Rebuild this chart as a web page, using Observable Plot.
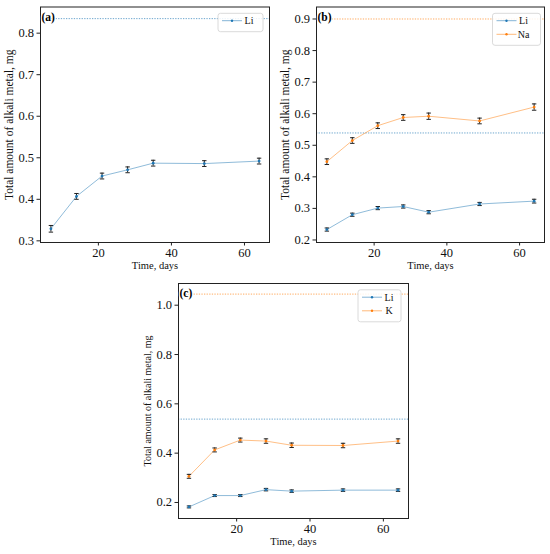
<!DOCTYPE html>
<html><head><meta charset="utf-8">
<script src="https://cdn.jsdelivr.net/npm/d3@7"></script>
<script src="https://cdn.jsdelivr.net/npm/@observablehq/plot@0.6"></script>
<style>
body{margin:0;background:#fff;}
#root{position:relative;width:550px;height:554px;overflow:hidden;background:#fff;}
.panel{position:absolute;}
.panel svg text{font-family:'Liberation Serif','Times New Roman','DejaVu Serif',serif;}
.panel svg g[aria-label$="tick label"] text{font-size:12.5px;}
</style></head><body><div id="root"></div>
<script>
// ---- data ----
const days = [7, 14, 21, 28, 35, 49, 64];

const aLi    = [0.329, 0.407, 0.456, 0.471, 0.487, 0.486, 0.492];
const aLiErr = [0.008, 0.007, 0.007, 0.007, 0.007, 0.007, 0.007];
const aLiRef = 0.835;

const bLi    = [0.233, 0.280, 0.301, 0.306, 0.288, 0.314, 0.323];
const bLiErr = [0.005, 0.005, 0.005, 0.005, 0.005, 0.005, 0.006];
const bNa    = [0.448, 0.515, 0.562, 0.588, 0.592, 0.577, 0.621];
const bNaErr = [0.009, 0.009, 0.009, 0.009, 0.010, 0.009, 0.010];
const bLiRef = 0.539;
const bNaRef = 0.900;

const cLi    = [0.182, 0.228, 0.228, 0.252, 0.246, 0.250, 0.250];
const cLiErr = [0.004, 0.004, 0.004, 0.005, 0.005, 0.005, 0.005];
const cK     = [0.306, 0.413, 0.453, 0.449, 0.432, 0.431, 0.449];
const cKErr  = [0.008, 0.008, 0.008, 0.009, 0.009, 0.009, 0.009];
const cLiRef = 0.538;
const cKRef  = 1.045;

const xTicks  = [20, 40, 60];
const aYTicks = [0.3, 0.4, 0.5, 0.6, 0.7, 0.8];
const bYTicks = [0.2, 0.3, 0.4, 0.5, 0.6, 0.7, 0.8, 0.9];
const cYTicks = [0.2, 0.4, 0.6, 0.8, 1.0];

const xLabel = "Time, days";
const yLabel = "Total amount of alkali metal, mg";

// ---- style ----
const BLUE = "#1f77b4", ORANGE = "#ff7f0e";
const FONT = "'Liberation Serif','Times New Roman','DejaVu Serif',serif";

function rows(vals, errs) {
  return days.map((d, i) => ({x: d, y: vals[i], lo: vals[i] - errs[i], hi: vals[i] + errs[i]}));
}

const cap = {draw(ctx, size) { const w = Math.sqrt(size / Math.PI); ctx.moveTo(-w, 0); ctx.lineTo(w, 0); }};

function panel(cfg) {
  const {left, top, width, height, m, yDomain, yTicks, series, refs, letter, ylabelSize, legendW, legendRight} = cfg;
  const marks = [
    ...refs.map(r => Plot.ruleY([r.value], {stroke: r.color, strokeOpacity: 0.65, strokeDasharray: "1.3,1.3", strokeWidth: 1})),
    ...series.flatMap(s => [
      Plot.line(s.data, {x: "x", y: "y", stroke: s.color, strokeOpacity: 0.5, strokeWidth: 1}),
      Plot.ruleX(s.data, {x: "x", y1: "lo", y2: "hi", stroke: "#222", strokeWidth: 1}),
      Plot.dot(s.data, {x: "x", y: "lo", symbol: cap, r: 2.2, stroke: "#222", fill: "none", strokeWidth: 1}),
      Plot.dot(s.data, {x: "x", y: "hi", symbol: cap, r: 2.2, stroke: "#222", fill: "none", strokeWidth: 1}),
      Plot.dot(s.data, {x: "x", y: "y", r: 1.4, fill: s.color, stroke: "none"})
    ]),
    Plot.frame({stroke: "#222", strokeWidth: 1}),
    Plot.axisX({ticks: xTicks, tickSize: 3.5, tickPadding: 2.5, fontSize: 12.5, fontFamily: FONT, label: null, stroke: "#222", fill: "#111"}),
    Plot.axisY({ticks: yTicks, tickFormat: d3.format(".1f"), tickSize: 3.5, tickPadding: 3, fontSize: 12.5, fontFamily: FONT, label: null, stroke: "#222", fill: "#111"}),
    Plot.text([xLabel], {frameAnchor: "bottom", dy: 23, textAnchor: "middle", lineAnchor: "middle", fontSize: 10.5, fontFamily: FONT, fill: "#111"}),
    Plot.text([yLabel], {frameAnchor: "left", dx: -31, rotate: -90, textAnchor: "middle", lineAnchor: "middle", fontSize: ylabelSize, fontFamily: FONT, fill: "#111"}),
    Plot.text([letter], {frameAnchor: "top-left", dx: 1, dy: 10, textAnchor: "start", lineAnchor: "middle", fontWeight: "bold", fontSize: 11.5, fontFamily: FONT, fill: "#000", stroke: "white", strokeWidth: 2, paintOrder: "stroke"})
  ];
  const svg = Plot.plot({
    width, height,
    marginLeft: m.left, marginRight: m.right, marginTop: m.top, marginBottom: m.bottom,
    style: {fontFamily: FONT, fontSize: "12px", color: "#111", background: "white", overflow: "visible"},
    x: {domain: [4.15, 66.85]},
    y: {domain: yDomain},
    marks
  });
  d3.select(svg).attr("font-family", FONT);
  // legend
  const g = d3.select(svg).append("g").attr("font-family", FONT);
  const rowH = 13.6;
  const bx = width - m.right - legendRight - legendW;
  const by = m.top + 6.8;
  g.append("rect").attr("x", bx).attr("y", by).attr("width", legendW)
    .attr("height", 4.8 + series.length * rowH).attr("rx", 2.5)
    .attr("fill", "white").attr("fill-opacity", 0.85).attr("stroke", "#d6d6d6").attr("stroke-width", 0.9);
  series.forEach((s, i) => {
    const yy = by + 7.4 + i * rowH;
    g.append("line").attr("x1", bx + 4).attr("x2", bx + 24).attr("y1", yy).attr("y2", yy)
      .attr("stroke", s.color).attr("stroke-opacity", 0.55).attr("stroke-width", 1);
    g.append("circle").attr("cx", bx + 14).attr("cy", yy).attr("r", 1.2).attr("fill", s.color);
    g.append("text").attr("x", bx + 31).attr("y", yy).attr("dy", "0.35em")
      .attr("font-size", 10).attr("fill", "#111").text(s.name);
  });
  const div = document.createElement("div");
  div.className = "panel";
  div.style.left = left + "px";
  div.style.top = top + "px";
  div.appendChild(svg);
  document.getElementById("root").appendChild(div);
}

panel({
  left: 0, top: 0, width: 275, height: 275,
  m: {left: 40, right: 6, top: 6.5, bottom: 33},
  yDomain: [0.296, 0.863], yTicks: aYTicks,
  series: [{name: "Li", color: BLUE, data: rows(aLi, aLiErr)}],
  refs: [{value: aLiRef, color: BLUE}],
  letter: "(a)", ylabelSize: 11.5, legendW: 45, legendRight: 6
});

panel({
  left: 275, top: 0, width: 275, height: 275,
  m: {left: 41, right: 6, top: 6.5, bottom: 33},
  yDomain: [0.192, 0.938], yTicks: bYTicks,
  series: [{name: "Li", color: BLUE, data: rows(bLi, bLiErr)}, {name: "Na", color: ORANGE, data: rows(bNa, bNaErr)}],
  refs: [{value: bLiRef, color: BLUE}, {value: bNaRef, color: ORANGE}],
  letter: "(b)", ylabelSize: 11.5, legendW: 48, legendRight: 3.5
});

panel({
  left: 137, top: 277, width: 275, height: 277,
  m: {left: 41, right: 4, top: 6, bottom: 36},
  yDomain: [0.135, 1.088], yTicks: cYTicks,
  series: [{name: "Li", color: BLUE, data: rows(cLi, cLiErr)}, {name: "K", color: ORANGE, data: rows(cK, cKErr)}],
  refs: [{value: cLiRef, color: BLUE}, {value: cKRef, color: ORANGE}],
  letter: "(c)", ylabelSize: 10, legendW: 43, legendRight: 7
});
</script></body></html>
